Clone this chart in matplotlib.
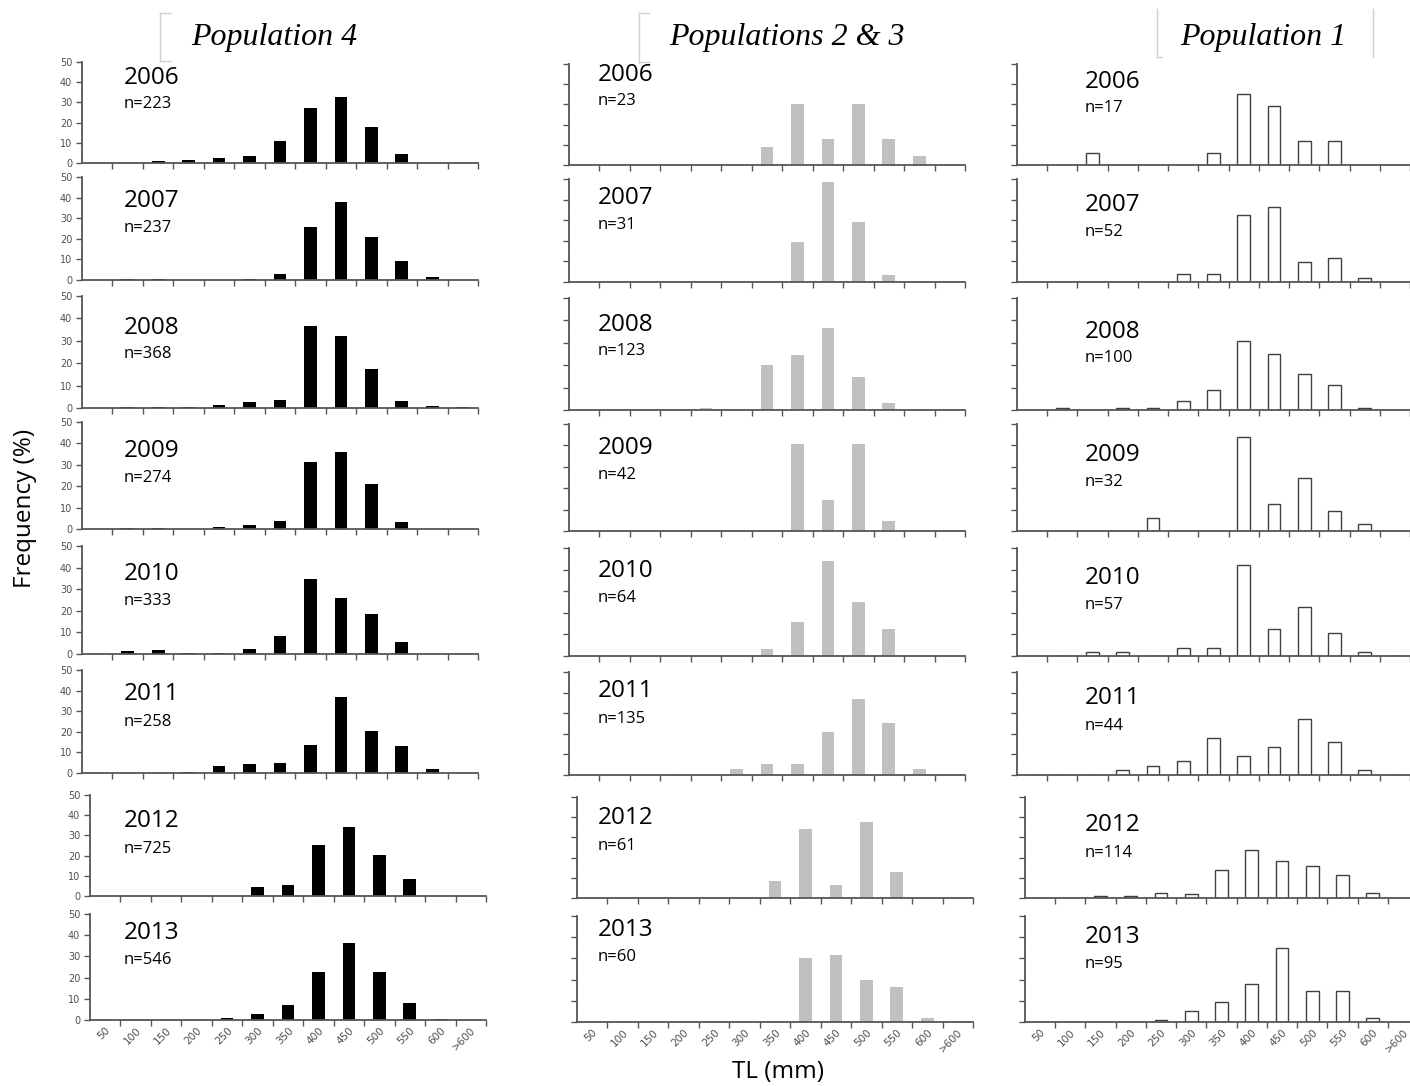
import matplotlib
matplotlib.use("Agg")
import matplotlib.pyplot as plt
from matplotlib.lines import Line2D
import numpy as np

# length classes (mm) and sampling years
size_classes = ["50", "100", "150", "200", "250", "300", "350",
                "400", "450", "500", "550", "600", ">600"]
years = [2006, 2007, 2008, 2009, 2010, 2011, 2012, 2013]

# sample sizes per year
n_pop4 = [223, 237, 368, 274, 333, 258, 725, 546]
n_pop23 = [23, 31, 123, 42, 64, 135, 61, 60]
n_pop1 = [17, 52, 100, 32, 57, 44, 114, 95]

# length frequency (%) per year, one value per size class
pop4 = [
    [0, 0, 1.0, 1.5, 2.3, 3.3, 10.8, 27.0, 32.8, 18.0, 4.3, 0, 0],
    [0, 0.3, 0.3, 0, 0, 0.3, 2.9, 25.6, 38.1, 21.0, 9.3, 1.6, 0],
    [0, 0.3, 0.3, 0.6, 1.5, 2.7, 3.7, 36.4, 32.0, 17.5, 3.0, 0.9, 0.3],
    [0, 0.3, 0.3, 0, 0.9, 2.0, 3.9, 31.3, 36.1, 20.9, 3.4, 0, 0],
    [0, 1.2, 1.8, 0.5, 0.3, 2.5, 8.3, 34.7, 26.0, 18.6, 5.7, 0, 0],
    [0, 0, 0.2, 0.5, 3.6, 4.4, 4.7, 13.7, 37.1, 20.4, 13.0, 1.8, 0],
    [0, 0, 0, 0.2, 0.2, 4.3, 5.2, 25.2, 34.3, 20.5, 8.4, 0.2, 0],
    [0, 0, 0, 0, 1.0, 2.7, 7.0, 22.7, 36.3, 22.7, 8.0, 0.3, 0],
]
pop23 = [
    [0, 0, 0, 0, 0, 0, 8.7, 30.4, 13.0, 30.4, 13.0, 4.3, 0],
    [0, 0, 0, 0, 0, 0, 0, 19.4, 48.4, 29.0, 3.2, 0, 0],
    [0, 0, 0, 0, 0.8, 0, 20.3, 24.4, 36.6, 14.6, 3.3, 0, 0],
    [0, 0, 0, 0, 0, 0, 0, 40.5, 14.3, 40.5, 4.8, 0, 0],
    [0, 0, 0, 0, 0, 0, 3.1, 15.6, 43.8, 25.0, 12.5, 0, 0],
    [0, 0, 0, 0.7, 0, 3.0, 5.2, 5.2, 20.7, 37.0, 25.2, 3.0, 0],
    [0, 0, 0, 0, 0, 0, 8.2, 34.4, 6.6, 37.7, 13.1, 0, 0],
    [0, 0, 0, 0, 0, 0, 0, 30.0, 31.7, 20.0, 16.7, 1.7, 0],
]
pop1 = [
    [0, 0, 5.9, 0, 0, 0, 5.9, 35.3, 29.4, 11.8, 11.8, 0, 0],
    [0, 0, 0, 0, 0, 3.8, 3.8, 32.7, 36.5, 9.6, 11.5, 1.9, 0],
    [0, 1.0, 0, 1.0, 1.0, 4.0, 9.0, 31.0, 25.0, 16.0, 11.0, 1.0, 0],
    [0, 0, 0, 0, 6.3, 0, 0, 43.8, 12.5, 25.0, 9.4, 3.1, 0],
    [0, 0, 1.8, 1.8, 0, 3.5, 3.5, 42.1, 12.3, 22.8, 10.5, 1.8, 0],
    [0, 0, 0, 2.3, 4.5, 6.8, 18.2, 9.1, 13.6, 27.3, 15.9, 2.3, 0],
    [0, 0, 0.9, 0.9, 2.6, 1.8, 14.0, 24.0, 18.4, 15.8, 11.4, 2.6, 0],
    [0, 0, 0, 0, 1.1, 5.3, 9.5, 17.9, 34.7, 14.7, 14.7, 2.1, 0],
]

W, H = 1410, 1086
fig = plt.figure(figsize=(W / 100, H / 100), dpi=100)

# panel geometry in pixels
row_top = [62, 177, 296, 422, 546, 670, 795, 914]
row_bot = [163, 280, 408, 529, 654, 773, 896, 1020]
row_shift = [0, 0, 0, 0, 0, 0, 8, 8]
col_left = [82, 569, 1017]
col_width = [396, 396, 393]
col_dy = [0, 2, 2]
year_y = [78, 201, 328, 451, 574, 694, 821, 933]
n_y = [104, 228, 354, 478, 601, 722, 849, 960]
text_x = [124, 598, 1085]
text_dy = [0, -3, 4]

columns = [
    (pop4, n_pop4, dict(color="black", edgecolor="black", linewidth=0)),
    (pop23, n_pop23, dict(color="#c0c0c0", edgecolor="#c0c0c0", linewidth=0)),
    (pop1, n_pop1, dict(color="white", edgecolor="#404040", linewidth=1.0)),
]

x = np.arange(len(size_classes))
axis_col = "#555555"

for c, (data, nvals, style) in enumerate(columns):
    for r in range(len(years)):
        top = row_top[r] + col_dy[c]
        bot = row_bot[r] + col_dy[c]
        left = col_left[c] + row_shift[r]
        ax = fig.add_axes([left / W, 1 - bot / H, col_width[c] / W, (bot - top) / H])
        ax.bar(x, data[r], width=0.42, **style)
        ax.set_xlim(-0.5, len(size_classes) - 0.5)
        ax.set_ylim(0, 50)
        for s in ["top", "right"]:
            ax.spines[s].set_visible(False)
        for s in ["left", "bottom"]:
            ax.spines[s].set_color(axis_col)
            ax.spines[s].set_linewidth(1.3)
        ax.set_yticks(np.arange(0, 51, 10))
        ax.tick_params(axis="y", direction="out", length=4, width=1,
                       color=axis_col, labelsize=7, labelcolor="#505050", pad=3)
        if c > 0:
            ax.set_yticklabels([])
        # major ticks between size classes, labels centred under bars
        ax.set_xticks(np.arange(0.5, len(size_classes), 1.0))
        ax.set_xticklabels([])
        ax.tick_params(axis="x", which="major", direction="out", length=4,
                       width=1, color=axis_col)
        ax.set_xticks(x, minor=True)
        ax.tick_params(axis="x", which="minor", length=0, labelsize=7.5,
                       labelcolor="#505050", pad=4)
        if r == len(years) - 1:
            ax.set_xticklabels(size_classes, minor=True, rotation=45,
                               ha="right", rotation_mode="anchor")
        ax.patch.set_alpha(0)

        fig.text(text_x[c] / W, 1 - (year_y[r] + text_dy[c]) / H, str(years[r]),
                 fontsize=17.5, family="Open Sans", va="center", ha="left")
        fig.text(text_x[c] / W, 1 - (n_y[r] + text_dy[c]) / H, f"n={nvals[r]}",
                 fontsize=12, family="Open Sans", va="center", ha="left")

# column headings
titles = ["Population 4", "Populations 2 & 3", "Population 1"]
title_x = [274, 787, 1263]
for t, tx in zip(titles, title_x):
    fig.text(tx / W, 1 - 38 / H, t, fontsize=23, family="Liberation Serif",
             style="italic", ha="center", va="center")

# faint heading box edges
grey = "#d0d0d0"
segments = [
    ([160, 160], [13, 61]), ([160, 171], [13, 13]), ([160, 171], [61, 61]),
    ([639, 639], [13, 62]), ([639, 649], [13, 13]), ([639, 649], [62, 62]),
    ([1157, 1157], [9, 57]), ([1157, 1162], [57, 57]), ([1373, 1373], [9, 57]),
]
for xs, ys in segments:
    fig.add_artist(Line2D([v / W for v in xs], [1 - v / H for v in ys],
                          color=grey, linewidth=1))

fig.text(25 / W, 1 - 508 / H, "Frequency (%)", rotation=90, fontsize=17.5,
         family="Open Sans", ha="center", va="center")
fig.text(778 / W, 1 - 1072 / H, "TL (mm)", fontsize=17.5, family="Open Sans",
         ha="center", va="center")

fig.savefig("out.png", dpi=100)
